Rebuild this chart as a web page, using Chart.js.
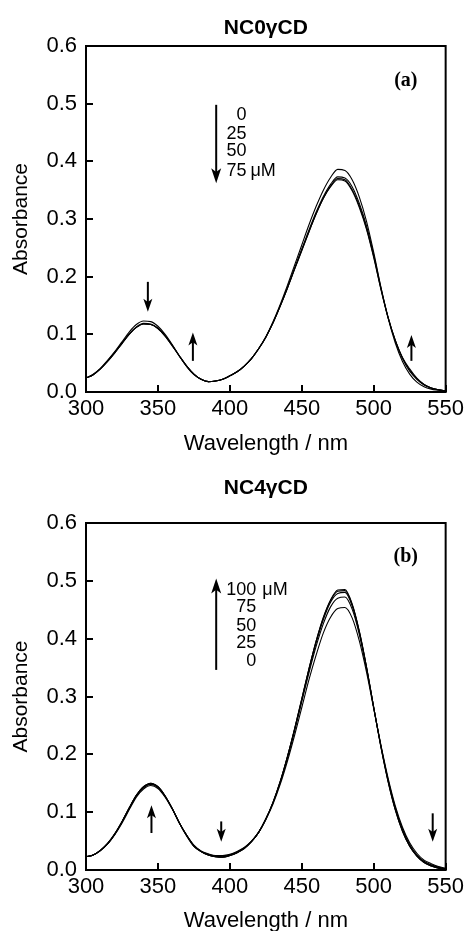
<!DOCTYPE html>
<html>
<head>
<meta charset="utf-8">
<title>NC0γCD / NC4γCD</title>
<script src="https://cdn.jsdelivr.net/npm/chart.js@4.4.0/dist/chart.umd.min.js"></script>
<style>
html, body { margin: 0; padding: 0; background: #fff; overflow: hidden; }
body { width: 468px; height: 931px; position: relative; }
canvas { position: absolute; left: 0; }
#graficoA { top: 0; }
#graficoB { top: 465px; }
</style>
</head>
<body>
<canvas id="graficoA" width="468" height="466"></canvas>
<canvas id="graficoB" width="468" height="480"></canvas>
<script>
// Longitudes de onda (nm)
const longitudes = [300, 305, 310, 315, 320, 325, 330, 335, 340, 345,
  350, 355, 360, 365, 370, 375, 380, 385, 390, 395,
  400, 405, 410, 415, 420, 425, 430, 435, 440, 445,
  450, 455, 460, 465, 470, 475, 480, 485, 490, 495,
  500, 505, 510, 515, 520, 525, 530, 535, 540, 545, 550];

// Panel (a) NC0γCD: 0, 25, 50, 75 μM
const a0 = [0.024, 0.031, 0.041, 0.055, 0.070, 0.087, 0.104, 0.117, 0.123, 0.122,
  0.114, 0.100, 0.082, 0.062, 0.044, 0.030, 0.022, 0.018, 0.019, 0.022,
  0.028, 0.035, 0.045, 0.058, 0.075, 0.096, 0.122, 0.152, 0.185, 0.220,
  0.255, 0.290, 0.322, 0.350, 0.372, 0.386, 0.384, 0.368, 0.338, 0.296,
  0.242, 0.182, 0.128, 0.085, 0.053, 0.031, 0.017, 0.009, 0.005, 0.003, 0.001];
const a25 = [0.024, 0.030, 0.040, 0.054, 0.069, 0.085, 0.101, 0.113, 0.119, 0.118,
  0.111, 0.098, 0.081, 0.062, 0.045, 0.031, 0.022, 0.018, 0.019, 0.022,
  0.028, 0.035, 0.045, 0.058, 0.075, 0.095, 0.120, 0.149, 0.181, 0.215,
  0.248, 0.281, 0.312, 0.339, 0.360, 0.373, 0.371, 0.356, 0.327, 0.288,
  0.238, 0.181, 0.130, 0.089, 0.058, 0.036, 0.022, 0.012, 0.007, 0.004, 0.002];
const a50 = [0.024, 0.030, 0.040, 0.053, 0.068, 0.084, 0.100, 0.112, 0.118, 0.117,
  0.110, 0.097, 0.080, 0.062, 0.045, 0.031, 0.022, 0.018, 0.019, 0.022,
  0.028, 0.035, 0.045, 0.058, 0.075, 0.095, 0.120, 0.149, 0.180, 0.213,
  0.246, 0.278, 0.309, 0.336, 0.357, 0.370, 0.368, 0.351, 0.323, 0.284,
  0.235, 0.179, 0.129, 0.089, 0.059, 0.038, 0.023, 0.013, 0.007, 0.004, 0.002];
const a75 = [0.024, 0.030, 0.040, 0.053, 0.068, 0.084, 0.100, 0.112, 0.118, 0.117,
  0.110, 0.097, 0.080, 0.062, 0.045, 0.031, 0.022, 0.018, 0.019, 0.022,
  0.028, 0.035, 0.045, 0.058, 0.075, 0.095, 0.120, 0.149, 0.180, 0.213,
  0.245, 0.278, 0.309, 0.336, 0.356, 0.368, 0.366, 0.349, 0.320, 0.282,
  0.233, 0.178, 0.129, 0.090, 0.060, 0.040, 0.024, 0.013, 0.007, 0.004, 0.002];

// Panel (b) NC4γCD: 0, 25, 50, 75, 100 μM
const b0 = [0.023, 0.026, 0.033, 0.045, 0.061, 0.081, 0.104, 0.126, 0.140, 0.146,
  0.141, 0.126, 0.105, 0.081, 0.060, 0.043, 0.033, 0.028, 0.025, 0.025,
  0.027, 0.032, 0.039, 0.050, 0.065, 0.087, 0.114, 0.148, 0.188, 0.233,
  0.281, 0.329, 0.372, 0.410, 0.437, 0.452, 0.454, 0.436, 0.396, 0.342,
  0.279, 0.216, 0.159, 0.111, 0.074, 0.047, 0.029, 0.017, 0.011, 0.006, 0.003];
const b25 = [0.023, 0.026, 0.034, 0.046, 0.062, 0.083, 0.106, 0.128, 0.142, 0.148,
  0.143, 0.127, 0.106, 0.081, 0.060, 0.042, 0.032, 0.027, 0.024, 0.023,
  0.026, 0.031, 0.038, 0.049, 0.065, 0.088, 0.116, 0.151, 0.193, 0.240,
  0.291, 0.341, 0.387, 0.426, 0.455, 0.470, 0.472, 0.451, 0.407, 0.348,
  0.281, 0.215, 0.156, 0.108, 0.071, 0.044, 0.026, 0.015, 0.009, 0.005, 0.002];
const b50 = [0.023, 0.026, 0.034, 0.046, 0.063, 0.084, 0.107, 0.129, 0.143, 0.149,
  0.144, 0.128, 0.106, 0.081, 0.060, 0.042, 0.032, 0.026, 0.023, 0.023,
  0.025, 0.030, 0.038, 0.049, 0.065, 0.088, 0.117, 0.152, 0.195, 0.243,
  0.294, 0.346, 0.393, 0.433, 0.463, 0.478, 0.480, 0.457, 0.411, 0.350,
  0.281, 0.214, 0.155, 0.106, 0.069, 0.042, 0.025, 0.014, 0.008, 0.004, 0.002];
const b75 = [0.023, 0.026, 0.034, 0.045, 0.062, 0.083, 0.107, 0.129, 0.144, 0.150,
  0.144, 0.128, 0.106, 0.081, 0.059, 0.041, 0.032, 0.026, 0.023, 0.022,
  0.025, 0.030, 0.037, 0.049, 0.065, 0.088, 0.117, 0.153, 0.196, 0.244,
  0.296, 0.348, 0.396, 0.436, 0.466, 0.482, 0.483, 0.459, 0.412, 0.351,
  0.281, 0.213, 0.153, 0.104, 0.067, 0.041, 0.024, 0.013, 0.007, 0.003, 0.001];
const b100 = [0.023, 0.026, 0.034, 0.045, 0.062, 0.083, 0.107, 0.129, 0.144, 0.150,
  0.144, 0.128, 0.106, 0.081, 0.059, 0.041, 0.032, 0.026, 0.023, 0.022,
  0.025, 0.030, 0.037, 0.049, 0.065, 0.088, 0.117, 0.153, 0.196, 0.244,
  0.296, 0.348, 0.396, 0.437, 0.467, 0.484, 0.485, 0.460, 0.413, 0.351,
  0.281, 0.213, 0.153, 0.104, 0.067, 0.041, 0.024, 0.013, 0.007, 0.003, 0.001];

// Marcas de los ejes
const ticksX = [300, 350, 400, 450, 500, 550];
const ticksY = [0.0, 0.1, 0.2, 0.3, 0.4, 0.5, 0.6];

// Textos de la leyenda de concentraciones
const concA = ['0', '25', '50', '75'];
const concB = ['100', '75', '50', '25', '0'];

const fuente = '"Liberation Sans", Arial, Helvetica, sans-serif';

// Flecha vertical con punta rellena
function dibujarFlecha(ctx, x, yDesde, yPunta, largo, ancho) {
    const dir = yPunta > yDesde ? 1 : -1;
    ctx.beginPath();
    ctx.moveTo(x, yDesde);
    ctx.lineTo(x, yPunta - dir * largo * 0.5);
    ctx.stroke();
    ctx.beginPath();
    ctx.moveTo(x, yPunta);
    ctx.lineTo(x - ancho / 2, yPunta - dir * largo);
    ctx.lineTo(x, yPunta - dir * largo * 0.75);
    ctx.lineTo(x + ancho / 2, yPunta - dir * largo);
    ctx.closePath();
    ctx.fill();
}

// Marco, marcas hacia dentro, flechas y textos
const pluginMarcas = {
    id: 'marcas',
    afterDatasetsDraw(chart, args, op) {
        const ctx = chart.ctx;
        const area = chart.chartArea;
        const sx = chart.scales.x;
        const sy = chart.scales.y;
        ctx.save();
        ctx.strokeStyle = '#000';
        ctx.fillStyle = '#000';
        ctx.lineWidth = 2;

        ctx.beginPath();
        ticksX.forEach(v => {
            const px = Math.round(sx.getPixelForValue(v));
            ctx.moveTo(px, area.bottom);
            ctx.lineTo(px, area.bottom - 7);
        });
        ticksY.forEach(v => {
            const py = Math.round(sy.getPixelForValue(v));
            ctx.moveTo(area.left, py);
            ctx.lineTo(area.left + 7, py);
        });
        ctx.stroke();
        ctx.strokeRect(area.left, area.top, area.right - area.left, area.bottom - area.top);

        op.flechas.forEach(f => {
            dibujarFlecha(ctx, sx.getPixelForValue(f.x), sy.getPixelForValue(f.desde),
                sy.getPixelForValue(f.hasta), f.largo, f.ancho);
        });

        ctx.font = '18px ' + fuente;
        ctx.textBaseline = 'middle';
        const xl = sx.getPixelForValue(op.leyenda.x);
        op.leyenda.textos.forEach((t, i) => {
            const py = sy.getPixelForValue(op.leyenda.y[i]);
            ctx.textAlign = 'right';
            ctx.fillText(t, xl, py);
            if (i === op.leyenda.conUnidad) {
                ctx.textAlign = 'left';
                ctx.fillText('μM', xl + op.leyenda.sep, py);
            }
        });

        ctx.font = 'bold 20px "Liberation Serif", "Times New Roman", serif';
        ctx.textAlign = 'center';
        ctx.fillText(op.etiqueta.texto, sx.getPixelForValue(op.etiqueta.x), sy.getPixelForValue(op.etiqueta.y));
        ctx.restore();
    }
};

function crearPanel(id, titulo, padTitulo, series, altoEjeX, padTituloX, marcas) {
    const ctx = document.getElementById(id).getContext('2d');
    return new Chart(ctx, {
        type: 'line',
        data: {
            datasets: series.map(s => ({
                label: s.nombre,
                data: longitudes.map((x, i) => ({ x: x, y: s.valores[i] })),
                borderColor: '#000',
                borderWidth: 1.1,
                pointRadius: 0,
                fill: false,
                cubicInterpolationMode: 'monotone'
            }))
        },
        options: {
            responsive: false,
            animation: false,
            devicePixelRatio: 1,
            layout: { padding: { left: 0, right: 21, top: 0, bottom: 0 } },
            plugins: {
                legend: { display: false },
                tooltip: { enabled: false },
                title: {
                    display: true,
                    text: titulo,
                    fullSize: false,
                    color: '#000',
                    font: { family: fuente, size: 21, weight: 'bold' },
                    padding: padTitulo
                },
                marcas: marcas
            },
            scales: {
                x: {
                    type: 'linear',
                    min: 300,
                    max: 550,
                    grid: { display: false, drawTicks: false },
                    border: { display: false },
                    afterBuildTicks: s => { s.ticks = ticksX.map(v => ({ value: v })); },
                    afterFit: s => { s.height = altoEjeX; },
                    ticks: {
                        color: '#000',
                        font: { family: fuente, size: 22 },
                        padding: 4,
                        maxRotation: 0,
                        autoSkip: false
                    },
                    title: {
                        display: true,
                        text: 'Wavelength / nm',
                        color: '#000',
                        font: { family: fuente, size: 22 },
                        padding: { top: 0, bottom: padTituloX }
                    }
                },
                y: {
                    min: 0,
                    max: 0.6,
                    grid: { display: false, drawTicks: false },
                    border: { display: false },
                    afterBuildTicks: s => { s.ticks = ticksY.map(v => ({ value: v })); },
                    afterFit: s => { s.width = 86; },
                    ticks: {
                        color: '#000',
                        font: { family: fuente, size: 22 },
                        padding: 9,
                        callback: v => v.toFixed(1)
                    },
                    title: {
                        display: true,
                        text: 'Absorbance',
                        color: '#000',
                        font: { family: fuente, size: 21 },
                        padding: { top: 9, bottom: 0 }
                    }
                }
            }
        },
        plugins: [pluginMarcas]
    });
}

// Panel (a)
const graficoA = crearPanel('graficoA', 'NC0γCD', { top: 15.4, bottom: 5.4 }, [
    { nombre: '0 μM', valores: a0 },
    { nombre: '25 μM', valores: a25 },
    { nombre: '50 μM', valores: a50 },
    { nombre: '75 μM', valores: a75 }
], 74, 9, {
    flechas: [
        { x: 390.5, desde: 0.498, hasta: 0.362, largo: 15, ancho: 10 },
        { x: 343, desde: 0.191, hasta: 0.139, largo: 13, ancho: 9 },
        { x: 374.3, desde: 0.054, hasta: 0.103, largo: 13, ancho: 9 },
        { x: 526.2, desde: 0.054, hasta: 0.099, largo: 13, ancho: 9 }
    ],
    leyenda: { x: 411.5, y: [0.480, 0.447, 0.417, 0.384], textos: concA, conUnidad: 3, sep: 4 },
    etiqueta: { texto: '(a)', x: 522.3, y: 0.539 }
});

// Panel (b)
const graficoB = crearPanel('graficoB', 'NC4γCD', { top: 10.4, bottom: 22.4 }, [
    { nombre: '0 μM', valores: b0 },
    { nombre: '25 μM', valores: b25 },
    { nombre: '50 μM', valores: b50 },
    { nombre: '75 μM', valores: b75 },
    { nombre: '100 μM', valores: b100 }
], 75, 11, {
    flechas: [
        { x: 390.5, desde: 0.346, hasta: 0.504, largo: 15, ancho: 10 },
        { x: 345.5, desde: 0.064, hasta: 0.112, largo: 13, ancho: 9 },
        { x: 394, desde: 0.084, hasta: 0.049, largo: 13, ancho: 9 },
        { x: 541, desde: 0.098, hasta: 0.049, largo: 13, ancho: 9 }
    ],
    leyenda: { x: 418.4, y: [0.484, 0.455, 0.422, 0.393, 0.361], textos: concB, conUnidad: 0, sep: 6 },
    etiqueta: { texto: '(b)', x: 522.3, y: 0.541 }
});
</script>
</body>
</html>
